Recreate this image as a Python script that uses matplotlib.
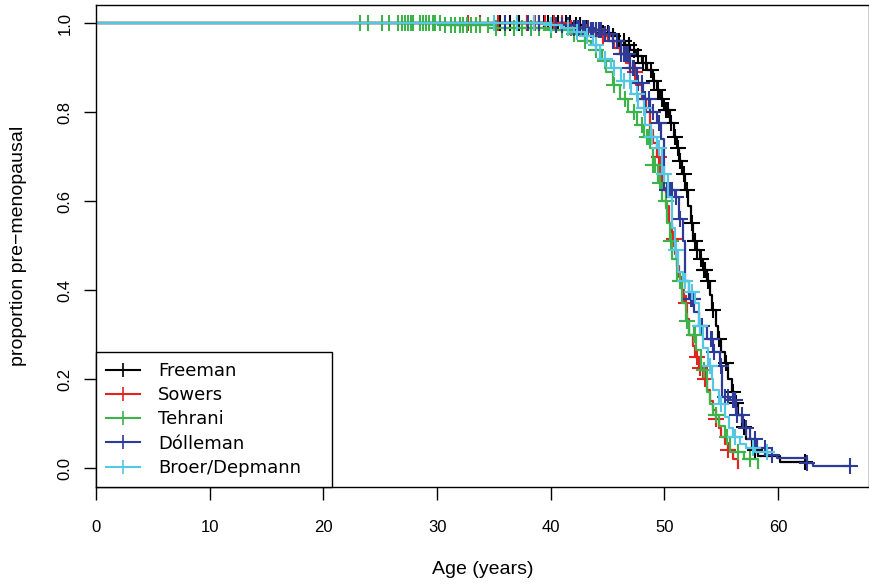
import numpy as np
import matplotlib.pyplot as plt

# Kaplan-Meier curves: (age, proportion) step points
freeman_t = [0, 42.0, 42.8, 43.5, 44.2, 45.2, 45.9, 46.5, 47.0, 47.5, 48.0, 48.5, 49.0, 49.3, 49.6,
             50.0, 50.5, 50.8, 51.1, 51.3, 51.5, 51.8, 52.1, 52.3, 52.5, 52.8, 53.1, 53.4, 53.7, 54.0,
             54.2, 54.5, 54.7, 55.0, 55.3, 55.6, 55.9, 56.2, 56.5, 56.8, 57.2, 57.7, 58.2, 60.2, 62.4]
freeman_s = [1.0, 0.995, 0.99, 0.985, 0.978, 0.97, 0.96, 0.95, 0.94, 0.925, 0.91, 0.895, 0.87, 0.85, 0.83,
             0.805, 0.775, 0.745, 0.72, 0.69, 0.66, 0.625, 0.59, 0.55, 0.51, 0.49, 0.47, 0.445, 0.42, 0.39,
             0.355, 0.32, 0.29, 0.26, 0.235, 0.2, 0.17, 0.146, 0.12, 0.092, 0.065, 0.04, 0.027, 0.013, 0.013]
freeman_cens = [35.5, 36.4, 37.2, 37.9, 38.5, 39.0, 39.4, 39.8, 40.2, 40.6, 41.0, 41.3, 41.7, 42.2, 42.6,
                43.1, 43.6, 44.0, 44.6, 45.0, 45.5, 46.0, 46.4, 46.9, 47.3, 47.7, 48.1, 48.4, 48.8, 49.1,
                49.4, 49.8, 50.1, 50.3, 50.6, 50.9, 51.2, 51.4, 51.7, 52.0, 52.4, 52.7, 52.9, 53.2, 53.5,
                53.6, 53.8, 54.3, 54.8, 55.4, 56.0, 56.3, 57.0, 58.0, 62.4]

sowers_t = [0, 41.5, 43.0, 44.0, 45.0, 45.6, 46.1, 46.6, 47.0, 47.5, 48.0, 48.4, 48.7, 49.0, 49.3, 49.6,
            49.8, 50.1, 50.4, 50.7, 50.9, 51.1, 51.3, 51.5, 51.7, 52.0, 52.2, 52.5, 52.7, 53.0, 53.4, 53.7,
            54.0, 54.3, 54.5, 54.8, 55.0, 55.3, 55.6, 56.0, 56.5]
sowers_s = [1.0, 0.99, 0.98, 0.97, 0.96, 0.945, 0.93, 0.91, 0.89, 0.86, 0.83, 0.80, 0.76, 0.73, 0.70, 0.665,
            0.63, 0.59, 0.55, 0.515, 0.48, 0.455, 0.43, 0.40, 0.37, 0.335, 0.30, 0.275, 0.25, 0.225, 0.20, 0.175,
            0.15, 0.13, 0.11, 0.09, 0.07, 0.055, 0.04, 0.02, 0.0]
sowers_cens = [32.7, 33.8, 35.4, 37.0, 37.9, 38.6, 39.5, 40.3, 41.0, 41.8, 42.5, 43.2, 44.6, 46.4, 47.4,
               48.3, 49.5, 50.8, 51.9, 52.9, 53.1, 53.6, 54.5, 55.6]

tehrani_t = [0, 30.5, 35.0, 40.0, 42.0, 43.0, 43.5, 44.0, 44.5, 44.9, 45.5, 46.1, 46.8, 47.6, 48.2, 48.7,
             49.0, 49.4, 49.8, 50.2, 50.5, 50.7, 51.1, 51.5, 51.9, 52.2, 52.8, 53.2, 53.7, 54.0, 54.3, 54.8,
             55.3, 55.8, 57.0, 58.2]
tehrani_s = [1.0, 0.995, 0.99, 0.985, 0.975, 0.96, 0.95, 0.94, 0.915, 0.89, 0.86, 0.83, 0.80, 0.77, 0.745,
             0.72, 0.68, 0.64, 0.60, 0.55, 0.51, 0.47, 0.42, 0.37, 0.33, 0.30, 0.265, 0.22, 0.17, 0.145, 0.12,
             0.095, 0.07, 0.035, 0.02, 0.0]
tehrani_cens = [23.2, 23.9, 25.2, 25.8, 26.6, 26.9, 27.2, 27.4, 27.7, 27.9, 28.5, 28.8, 29.0, 29.3, 29.6,
                29.8, 30.3, 30.7, 31.2, 31.6, 32.0, 32.3, 32.6, 33.0, 33.4, 33.8, 34.5, 35.2, 36.0, 36.8,
                37.5, 38.3, 39.0, 40.0, 41.0, 42.0, 43.0, 44.0, 44.8, 45.6, 46.5, 47.3, 48.0, 48.5, 48.6,
                49.0, 49.2, 49.6, 50.1, 50.6, 51.4, 52.0, 52.6, 52.7, 53.5, 54.5, 55.5, 56.5, 57.5]

dolleman_t = [0, 40.0, 42.0, 43.5, 44.5, 45.5, 46.2, 47.0, 47.6, 48.1, 48.7, 49.3, 49.7, 50.0, 50.9, 51.3,
              51.6, 51.8, 52.2, 52.6, 53.0, 53.7, 54.3, 54.9, 55.1, 55.8, 56.3, 56.9, 57.5, 58.1, 59.0,
              59.9, 62.5, 63.1, 66.3]
dolleman_s = [1.0, 0.995, 0.99, 0.985, 0.975, 0.96, 0.93, 0.90, 0.865, 0.83, 0.80, 0.775, 0.74, 0.625, 0.61,
              0.56, 0.51, 0.42, 0.38, 0.35, 0.32, 0.29, 0.26, 0.23, 0.16, 0.153, 0.12, 0.09, 0.065, 0.045,
              0.03, 0.022, 0.011, 0.005, 0.005]
dolleman_cens = [36.0, 38.0, 39.0, 40.0, 40.5, 41.0, 41.5, 42.0, 42.3, 42.5, 42.8, 43.0, 43.3, 43.5, 43.7,
                 44.0, 44.2, 44.4, 44.8, 45.1, 45.5, 45.8, 46.2, 46.4, 46.6, 46.8, 47.0, 47.2, 47.3, 47.7,
                 48.0, 48.2, 48.3, 48.6, 49.0, 49.5, 50.2, 50.5, 50.7, 51.0, 51.4, 52.3, 52.4, 52.5, 53.1,
                 53.3, 54.1, 54.2, 54.4, 55.0, 55.3, 55.6, 56.0, 56.2, 56.4, 56.8, 57.2, 58.0, 58.8, 59.5,
                 62.5, 66.3]

broer_t = [0, 40.0, 41.0, 42.0, 43.0, 43.7, 44.3, 45.3, 46.2, 47.1, 47.7, 48.3, 48.8, 49.3, 49.8, 50.3,
           50.7, 50.9, 51.2, 51.6, 52.2, 52.7, 53.0, 53.4, 53.8, 54.2, 54.3, 54.8, 55.3, 55.7, 56.0, 56.6,
           57.2, 58.0, 59.0]
broer_s = [1.0, 0.995, 0.99, 0.98, 0.97, 0.95, 0.92, 0.90, 0.87, 0.84, 0.81, 0.77, 0.745, 0.72, 0.66, 0.61,
           0.54, 0.49, 0.44, 0.42, 0.395, 0.37, 0.32, 0.27, 0.23, 0.20, 0.175, 0.145, 0.115, 0.09, 0.07,
           0.055, 0.045, 0.036, 0.036]
broer_cens = [35.0, 37.0, 38.5, 40.0, 41.5, 42.3, 43.2, 44.0, 44.8, 45.6, 46.4, 47.0, 47.6, 48.2, 48.9,
              49.5, 50.0, 51.0, 51.8, 52.4, 53.1, 54.0, 55.0, 56.2, 57.8, 59.0]

names = ["Freeman", "Sowers", "Tehrani", "Dólleman", "Broer/Depmann"]
colors = ["black", "#E3231F", "#3CB44A", "#2E3A97", "#55C6E4"]
curves = [(freeman_t, freeman_s, freeman_cens),
          (sowers_t, sowers_s, sowers_cens),
          (tehrani_t, tehrani_s, tehrani_cens),
          (dolleman_t, dolleman_s, dolleman_cens),
          (broer_t, broer_s, broer_cens)]

fig = plt.figure(figsize=(8.7, 5.84), dpi=100)
ax = fig.add_axes([0.1103, 0.166, 0.8887, 0.825])

for name, col, (t, s, cens) in zip(names, colors, curves):
    t = np.array(t)
    s = np.array(s)
    ax.plot(t, s, drawstyle="steps-post", color=col, lw=1.6)
    # censor marks sit on the curve value at that time
    idx = np.searchsorted(t, cens, side="right") - 1
    ax.plot(cens, s[idx], ls="none", marker="+", ms=12, mew=1.5, color=col)
    ax.plot([], [], color=col, lw=1.5, marker="+", ms=10, mew=1.2, label=name)

ax.set_xlim(0, 68)
ax.set_ylim(-0.0427, 1.04)
ax.set_xticks(np.arange(0, 61, 10))
ax.set_yticks(np.arange(0, 1.01, 0.2))
ax.set_yticklabels(["%.1f" % v for v in np.arange(0, 1.01, 0.2)], rotation=90, va="center")
ax.tick_params(direction="out", length=9, width=1, labelsize=12)
ax.tick_params(axis="x", pad=15)
ax.tick_params(axis="y", pad=8)
for lab in ax.get_xticklabels() + ax.get_yticklabels():
    lab.set_family("Liberation Sans")
for sp in ax.spines.values():
    sp.set_linewidth(1.0)

ax.set_xlabel("Age (years)", family="Liberation Sans", fontsize=14)
ax.set_ylabel("proportion pre\u2212menopausal", family="Liberation Sans", fontsize=14)
ax.xaxis.set_label_coords(0.5, -0.153)
ax.yaxis.set_label_coords(-0.089, 0.5)

leg = ax.legend(loc="lower left", bbox_to_anchor=(0, 0, 0.305, 0.3), mode="expand",
                borderaxespad=0, fancybox=False, framealpha=1, edgecolor="black",
                prop={"family": "DejaVu Sans", "size": 13}, handlelength=1.9,
                handletextpad=1.0, labelspacing=0.35, borderpad=0.55, numpoints=1)
leg.get_frame().set_linewidth(1.0)

fig.savefig("out.png", dpi=100)
